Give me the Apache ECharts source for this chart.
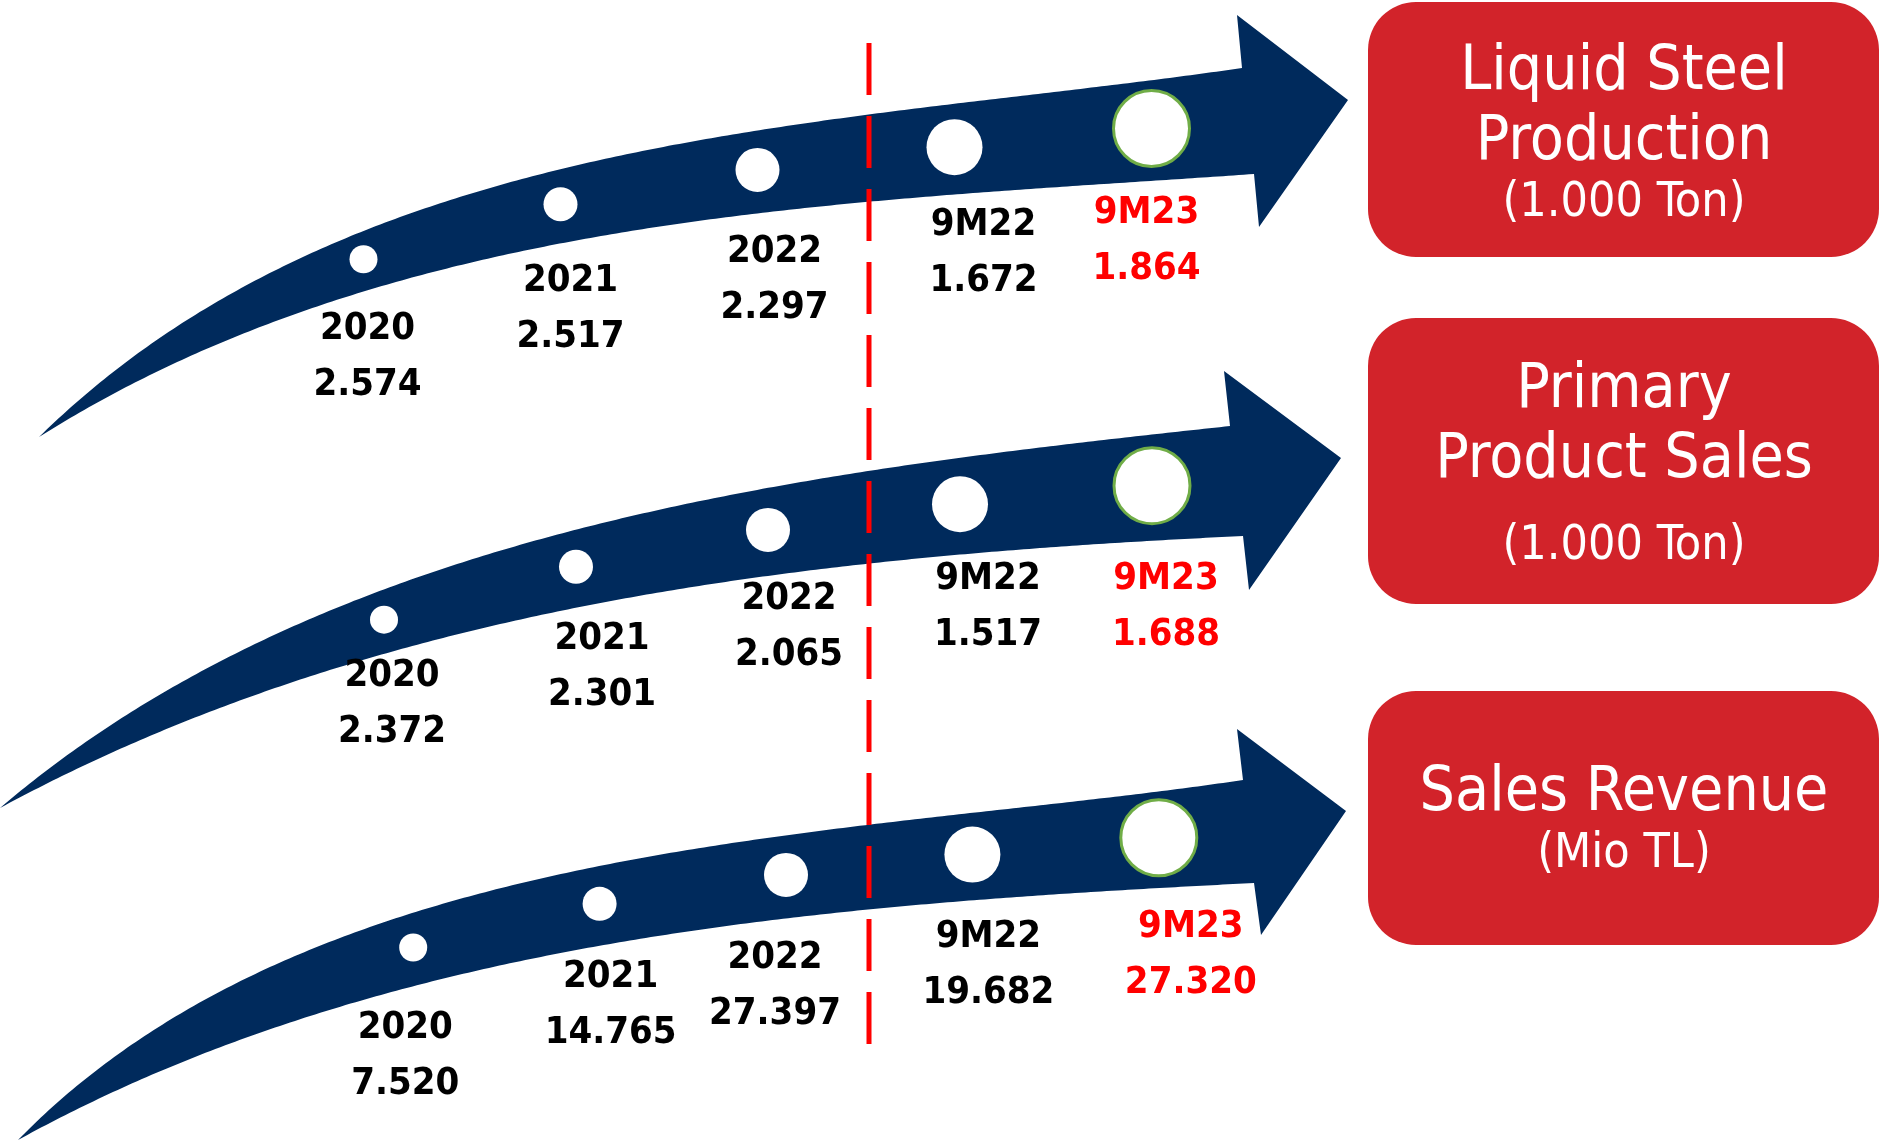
<!DOCTYPE html>
<html>
<head>
<meta charset="utf-8">
<script src="https://cdn.jsdelivr.net/npm/echarts@6/dist/echarts.min.js"></script>
<style>
html,body{margin:0;padding:0;background:#ffffff;}
#chart{width:1880px;height:1140px;}
</style>
</head>
<body>
<div id="chart"></div>
<script>
// ---------------- DATA ----------------
const categories = ['2020', '2021', '2022', '9M22', '9M23'];
const liquidSteelProduction = [2574, 2517, 2297, 1672, 1864];   // 1.000 Ton
const primaryProductSales   = [2372, 2301, 2065, 1517, 1688];   // 1.000 Ton
const salesRevenue          = [7520, 14765, 27397, 19682, 27320]; // Mio TL
const panelTitles = [['Liquid Steel', 'Production'], ['Primary', 'Product Sales'], ['Sales Revenue']];
const panelUnits  = ['(1.000 Ton)', '(1.000 Ton)', '(Mio TL)'];

// ---------------- LAYOUT / STYLE ----------------
const FONT = "'DejaVu Sans Condensed', 'DejaVu Sans', sans-serif";
const NAVY = '#002A5C';
const RED_BOX = '#D2232A';
const panelValues = [liquidSteelProduction, primaryProductSales, salesRevenue];
const markerSizes = [28, 34, 44, 56, 76];

// decorative arrow outlines (pixel space), edges are smoothed by a cubic fit
const arrowShapes = [
  {
    tail: [39, 437],
    upper: [[102,383],[163,332],[229,290],[306,255],[367,230],[449,203],[531,178],[640,155],[865,113],[1021,93],[1242,68]],
    lower: [[102,403],[204,347],[306,307],[408,280],[510,255],[640,232],[865,202],[1021,187],[1254,174]],
    head: [[1237,15],[1348,100],[1259,227]]
  },
  {
    tail: [0, 808],
    upper: [[77,747],[153,690],[230,652],[306,620],[383,595],[459,570],[580,530],[700,500],[869,468],[1059,443],[1230,426]],
    lower: [[77,773],[153,733],[230,702],[306,677],[383,655],[459,637],[536,617],[600,600],[869,563],[1059,548],[1243,536]],
    head: [[1224,371],[1341,458],[1249,590]]
  },
  {
    tail: [18, 1140],
    upper: [[89,1073],[179,1003],[268,965],[357,933],[446,907],[536,883],[625,865],[700,852],[869,822],[1000,805],[1100,793],[1243,780]],
    lower: [[89,1100],[179,1057],[268,1027],[357,1003],[446,982],[536,962],[625,943],[700,929],[869,906],[1000,897],[1100,891],[1254,883]],
    head: [[1237,729],[1346,811],[1261,935]]
  }
];
const gridLayout = [{left: 265, width: 985}, {left: 288, width: 960}, {left: 320, width: 932}];
const labelDx = [[4, 10, 17, 29, -5], [8, 26, 21, 28, 14], [-8, 11, -11, 16, 32]];
const labelGap = [33, 30, 38];
const labelDy = [[6, 7, 8, 0, -1], [-6, 6, -4, -3, 9], [2, -5, 0, 0, 3]];

const boxes = [
  {y: 2, h: 255, lines: [73, 143], unitY: 204},
  {y: 318, h: 286, lines: [391, 461], unitY: 547},
  {y: 691, h: 254, lines: [794], unitY: 855}
];

// ---------------- HELPERS ----------------
const fmt = n => String(n).replace(/\B(?=(\d{3})+(?!\d))/g, '.');

function bez(P, s) {
  const u = 1 - s;
  const b0 = u * u * u, b1 = 3 * s * u * u, b2 = 3 * s * s * u, b3 = s * s * s;
  return [b0 * P[0][0] + b1 * P[1][0] + b2 * P[2][0] + b3 * P[3][0],
          b0 * P[0][1] + b1 * P[1][1] + b2 * P[2][1] + b3 * P[3][1]];
}
function fitBezier(pts) {
  const n = pts.length, P0 = pts[0], P3 = pts[n - 1];
  const d = [0];
  for (let i = 1; i < n; i++) d.push(d[i - 1] + Math.hypot(pts[i][0] - pts[i - 1][0], pts[i][1] - pts[i - 1][1]));
  let t = d.map(v => v / d[n - 1]);
  let P = null;
  for (let iter = 0; iter < 8; iter++) {
    let a11 = 0, a12 = 0, a22 = 0, bx1 = 0, bx2 = 0, by1 = 0, by2 = 0;
    for (let i = 0; i < n; i++) {
      const s = t[i], u = 1 - s;
      const b0 = u * u * u, b1 = 3 * s * u * u, b2 = 3 * s * s * u, b3 = s * s * s;
      const rx = pts[i][0] - b0 * P0[0] - b3 * P3[0];
      const ry = pts[i][1] - b0 * P0[1] - b3 * P3[1];
      a11 += b1 * b1; a12 += b1 * b2; a22 += b2 * b2;
      bx1 += b1 * rx; bx2 += b2 * rx; by1 += b1 * ry; by2 += b2 * ry;
    }
    const det = a11 * a22 - a12 * a12;
    const P1 = [(bx1 * a22 - bx2 * a12) / det, (by1 * a22 - by2 * a12) / det];
    const P2 = [(a11 * bx2 - a12 * bx1) / det, (a11 * by2 - a12 * by1) / det];
    P = [P0, P1, P2, P3];
    const samp = [];
    for (let k = 0; k <= 600; k++) samp.push(bez(P, k / 600));
    t = pts.map((p, i) => {
      if (i === 0) return 0;
      if (i === n - 1) return 1;
      let best = 0, bd = Infinity;
      for (let k = 0; k <= 600; k++) {
        const dd = (samp[k][0] - p[0]) ** 2 + (samp[k][1] - p[1]) ** 2;
        if (dd < bd) { bd = dd; best = k; }
      }
      return best / 600;
    });
  }
  const dense = [];
  for (let k = 0; k <= 240; k++) dense.push(bez(P, k / 240));
  return dense;
}
function yAt(dense, x) {
  if (x <= dense[0][0]) return dense[0][1];
  for (let i = 1; i < dense.length; i++) {
    if (x <= dense[i][0]) {
      const a = dense[i - 1], b = dense[i];
      return a[1] + (b[1] - a[1]) * (x - a[0]) / (b[0] - a[0]);
    }
  }
  return dense[dense.length - 1][1];
}

// ---------------- BUILD ----------------
const graphics = [];
const grids = [], xAxes = [], yAxes = [], series = [];

arrowShapes.forEach((a, k) => {
  const up = fitBezier([a.tail].concat(a.upper));
  const lo = fitBezier([a.tail].concat(a.lower));
  const poly = up.concat(a.head).concat(lo.slice().reverse());
  graphics.push({type: 'polygon', z: 0, silent: true, shape: {points: poly}, style: {fill: NAVY}});

  const g = gridLayout[k];
  grids.push({left: g.left, width: g.width, top: 0, height: 1140, containLabel: false});
  xAxes.push({type: 'category', gridIndex: k, data: categories, boundaryGap: true, show: false});
  yAxes.push({type: 'value', gridIndex: k, min: 0, max: 1140, inverse: true, show: false});

  const vals = panelValues[k];
  const step = g.width / categories.length;
  const circleData = categories.map((c, i) => {
    const cx = g.left + (i + 0.5) * step;
    const cy = (yAt(up, cx) + yAt(lo, cx)) / 2 - 2;
    return {
      value: [i, cy],
      symbolSize: markerSizes[i],
      itemStyle: i === categories.length - 1
        ? {color: '#ffffff', opacity: 1, borderColor: '#70AD47', borderWidth: 3}
        : {color: '#ffffff', opacity: 1, borderWidth: 0}
    };
  });
  series.push({
    type: 'scatter', xAxisIndex: k, yAxisIndex: k, symbol: 'circle', z: 3, silent: true,
    itemStyle: {opacity: 1},
    data: circleData
  });

  const labelData = categories.map((c, i) => {
    const cx = g.left + (i + 0.5) * step;
    const dx = labelDx[k][i];
    const ly = yAt(lo, cx + dx) + labelGap[k] + labelDy[k][i] + 28;
    return {value: [i, ly], label: {offset: [dx, 0]}};
  });
  series.push({
    type: 'scatter', xAxisIndex: k, yAxisIndex: k, symbol: 'circle', symbolSize: 1, z: 4, silent: true,
    itemStyle: {color: 'rgba(0,0,0,0)', opacity: 1},
    label: {
      show: true, position: 'inside', align: 'center', verticalAlign: 'middle', opacity: 1,
      formatter: p => {
        const key = p.dataIndex === categories.length - 1 ? 'r' : 'k';
        return '{' + key + '|' + categories[p.dataIndex] + '}\n{' + key + '|' + fmt(vals[p.dataIndex]) + '}';
      },
      rich: {
        k: {fontFamily: FONT, fontSize: 38, fontWeight: 'bold', color: '#000000', lineHeight: 56, align: 'center'},
        r: {fontFamily: FONT, fontSize: 38, fontWeight: 'bold', color: '#FF0000', lineHeight: 56, align: 'center'}
      }
    },
    data: labelData
  });
});

// dashed divider
graphics.push({
  type: 'line', z: 5, silent: true,
  shape: {x1: 869, y1: 43, x2: 869, y2: 1050},
  style: {stroke: '#FF0000', lineWidth: 5, lineDash: [52, 21]}
});

// red boxes with text
boxes.forEach((b, k) => {
  graphics.push({
    type: 'rect', z: 0, silent: true,
    shape: {x: 1368, y: b.y, width: 511, height: b.h, r: 48},
    style: {fill: RED_BOX}
  });
  panelTitles[k].forEach((t, j) => {
    graphics.push({
      type: 'text', z: 6, silent: true,
      style: {text: t, x: 1624, y: b.lines[j], fill: '#ffffff', font: '62px ' + FONT, textAlign: 'center', textVerticalAlign: 'middle'}
    });
  });
  graphics.push({
    type: 'text', z: 6, silent: true,
    style: {text: panelUnits[k], x: 1624, y: b.unitY, fill: '#ffffff', font: '48px ' + FONT, textAlign: 'center', textVerticalAlign: 'middle'}
  });
});

const chart = echarts.init(document.getElementById('chart'), null, {renderer: 'canvas'});
chart.setOption({
  backgroundColor: '#ffffff',
  animation: false,
  grid: grids,
  xAxis: xAxes,
  yAxis: yAxes,
  graphic: {elements: graphics},
  series: series
});
</script>
</body>
</html>
